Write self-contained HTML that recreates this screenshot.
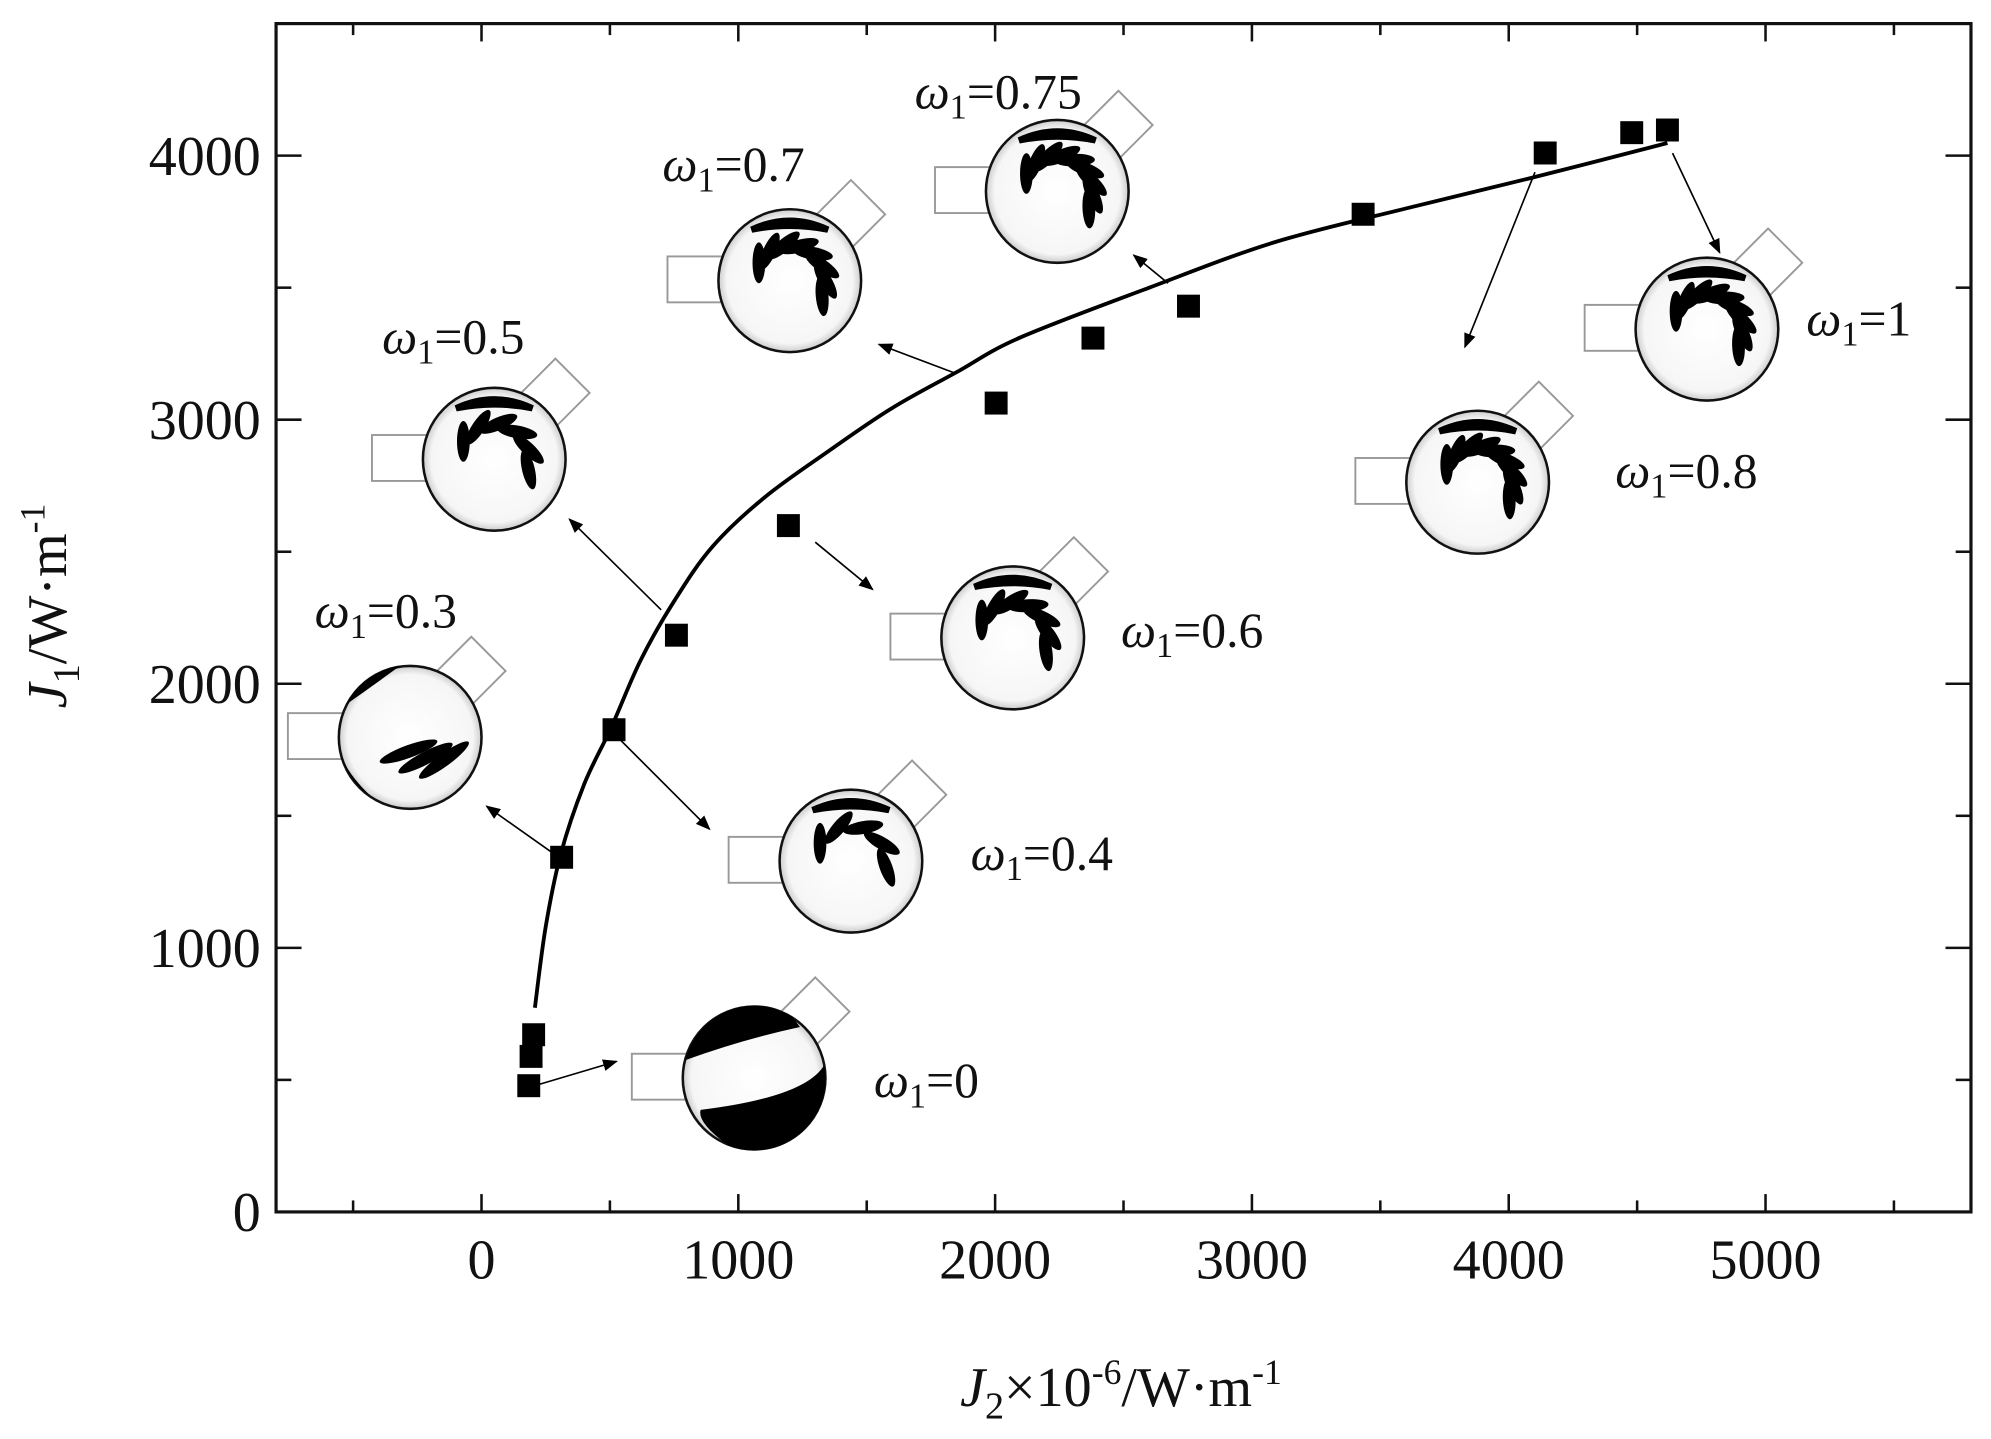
<!DOCTYPE html>
<html><head><meta charset="utf-8"><style>
html,body{margin:0;padding:0;background:#fff}
svg{display:block}
text{font-family:"Liberation Serif",serif;fill:#111}
</style></head><body>
<svg id="chart" width="1991" height="1439" viewBox="0 0 1563 1128" preserveAspectRatio="none" xmlns="http://www.w3.org/2000/svg">
<defs>
<radialGradient id="gin" cx="50%" cy="50%" r="50%"><stop offset="0%" stop-color="#fff"/><stop offset="88%" stop-color="#f6f6f6"/><stop offset="100%" stop-color="#ccc"/></radialGradient>
<marker id="ah" viewBox="0 0 10 10" refX="9" refY="5" markerWidth="9" markerHeight="9" orient="auto"><path d="M0,1 L10,5 L0,9 z" fill="#000"/></marker>
</defs>
<g id="plot"></g>
</svg>
<script>
const xData=[184,193,203,312,516,759,1195,2004,2381,2753,3433,4142,4479,4618];
const yData=[478,589,671,1343,1826,2184,2599,3063,3309,3430,3778,4010,4087,4097];
const fitX=[208,250,308,400,506,620,754,900,1101,1350,1597,1850,2093,2600,3085,3600,4077,4618];
const fitY=[773,1080,1353,1620,1836,2090,2319,2520,2705,2880,3043,3180,3309,3500,3671,3800,3913,4048];
const xTicks=[0,1000,2000,3000,4000,5000];
const yTicks=[0,1000,2000,3000,4000];
const insetLabels=["0","0.3","0.4","0.5","0.6","0.7","0.75","0.8","1"];
const NS="http://www.w3.org/2000/svg";
const X=v=>378+v*0.2016, Y=v=>950-v*0.207;
const g=document.getElementById('plot');
function mk(t,a,p){const e=document.createElementNS(NS,t);for(const k in a)e.setAttribute(k,a[k]);(p||g).appendChild(e);return e;}
const L=X(-800),R=X(5800),T=Y(4500),B=Y(0);
const insets=[[592,845,0],[322,578,1],[668,675,2],[388,360,3],[795,500,4],[620,220,5],[830,150,6],[1160,378,7],[1340,258,8]];
insets.forEach(([cx,cy,k])=>{
 const gr=mk('g',{transform:`translate(${cx},${cy})`});
 
 
 mk('rect',{x:-96,y:-19,width:50,height:36,fill:'#fff',stroke:'#999','stroke-width':1.5},gr);
 mk('rect',{x:-19,y:-19,width:38,height:38,fill:'#fff',stroke:'#999','stroke-width':1.5,transform:'translate(48,-52) rotate(-45)'},gr);
 mk('circle',{r:56,fill:'url(#gin)',stroke:'#111','stroke-width':2},gr);
 if(k===0){mk('path',{d:'M-54,-14 A56,56 0 0 1 30,-48 L36,-40 Q-10,-30 -54,-14 z',fill:'#000'},gr);
  mk('path',{d:'M-20,53 A56,56 0 0 0 55,-10 Q40,15 -42,25 Q-45,35 -20,53 z',fill:'#000'},gr);}
 else if(k===1){mk('path',{d:'M-50,-26 A56,56 0 0 1 -8,-56 Q-30,-40 -50,-26 z',fill:'#000'},gr);
  mk('path',{d:'M-54,15 A56,56 0 0 0 -30,47 Q-48,30 -54,15 z',fill:'#000'},gr);
  for(let i=0;i<3;i++)mk('ellipse',{cx:-5+i*8,cy:10+i*10,rx:24,ry:5,fill:'#000',transform:`rotate(${-20-i*8})`},gr);}
 else{const n=Math.min(3+k,9);
  for(let i=0;i<n;i++){const a=-150+i*(200/n);mk('ellipse',{cx:Math.cos(a*Math.PI/180)*28,cy:Math.sin(a*Math.PI/180)*28,rx:16,ry:5,fill:'#000',transform:`rotate(${a+60} ${Math.cos(a*Math.PI/180)*28} ${Math.sin(a*Math.PI/180)*28})`},gr);}
  mk('path',{d:'M-30,-40 Q0,-54 30,-40 Q0,-46 -30,-40 z',fill:'#000','stroke':'#000','stroke-width':5},gr);}
});
const lab=[[686,860,0],[247,492,1],[762,682,2],[300,277,3],[880,507,4],[520,142,5],[718,85,6],[1268,382,7],[1418,263,8]];
lab.forEach(([x,y,k])=>{const t=mk('text',{x:x,y:y,'font-size':39});
 
 
 t.innerHTML='<tspan font-style="italic">ω</tspan><tspan font-size="27" dy="8">1</tspan><tspan dy="-8">='+insetLabels[k]+'</tspan>';});
const arr=[[420,851,484,832],[433,668,382,632],[487,580,557,650],[519,478,447,407],[640,425,685,462],[751,293,690,270],[917,222,890,200],[1205,135,1150,272],[1313,120,1350,198]];
arr.forEach(a=>{const e=mk('line',{x1:a[0],y1:a[1],x2:a[2],y2:a[3],stroke:'#000','stroke-width':1.3,'marker-end':'url(#ah)'});
 
 });
const fr=mk('rect',{x:L,y:T,width:R-L,height:B-T,fill:'none',stroke:'#111','stroke-width':2.5});


for(let v=-500;v<=5500;v+=500){const big=v%1000===0,len=big?14:9;
 mk('line',{x1:X(v),x2:X(v),y1:B,y2:B-len,stroke:'#111','stroke-width':2});
 mk('line',{x1:X(v),x2:X(v),y1:T,y2:T+len,stroke:'#111','stroke-width':2});}
for(let v=500;v<=4000;v+=500){const big=v%1000===0,len=big?20:12;
 mk('line',{x1:L,x2:L+len,y1:Y(v),y2:Y(v),stroke:'#111','stroke-width':2});
 mk('line',{x1:R,x2:R-len,y1:Y(v),y2:Y(v),stroke:'#111','stroke-width':2});}
xTicks.forEach(v=>{const t=mk('text',{x:X(v),y:B+52,'font-size':44,'text-anchor':'middle'});t.textContent=v;
 
 });
yTicks.forEach(v=>{const t=mk('text',{x:L-12,y:Y(v)+15,'font-size':44,'text-anchor':'end'});t.textContent=v;
 
 });
const xt=mk('text',{x:880,y:1102,'font-size':44,'text-anchor':'middle'});


xt.innerHTML='<tspan font-style="italic">J</tspan><tspan font-size="30" dy="10">2</tspan><tspan dy="-10">×10</tspan><tspan font-size="28" dy="-17">-6</tspan><tspan dy="17">/W·m</tspan><tspan font-size="28" dy="-17">-1</tspan>';
const yt=mk('text',{x:0,y:0,'font-size':44,'text-anchor':'middle',transform:'translate(52,475) rotate(-90)'});


yt.innerHTML='<tspan font-style="italic">J</tspan><tspan font-size="30" dy="10">1</tspan><tspan dy="-10">/W·m</tspan><tspan font-size="28" dy="-17">-1</tspan>';
// smooth fit curve (Catmull-Rom)
const P=fitX.map((v,i)=>[X(v),Y(fitY[i])]);
let d='M'+P[0][0].toFixed(1)+','+P[0][1].toFixed(1);
for(let i=0;i<P.length-1;i++){const p0=P[Math.max(i-1,0)],p1=P[i],p2=P[i+1],p3=P[Math.min(i+2,P.length-1)];
 const c1=[p1[0]+(p2[0]-p0[0])/6,p1[1]+(p2[1]-p0[1])/6],c2=[p2[0]-(p3[0]-p1[0])/6,p2[1]-(p3[1]-p1[1])/6];
 d+=`C${c1[0].toFixed(1)},${c1[1].toFixed(1)} ${c2[0].toFixed(1)},${c2[1].toFixed(1)} ${p2[0].toFixed(1)},${p2[1].toFixed(1)}`;}
const c=mk('path',{d:d,fill:'none',stroke:'#000','stroke-width':3,'stroke-linejoin':'round'});


xData.forEach((v,i)=>{const r=mk('rect',{x:X(v)-9,y:Y(yData[i])-9,width:18,height:18,fill:'#000'});
 
 });
</script>
</body></html>
